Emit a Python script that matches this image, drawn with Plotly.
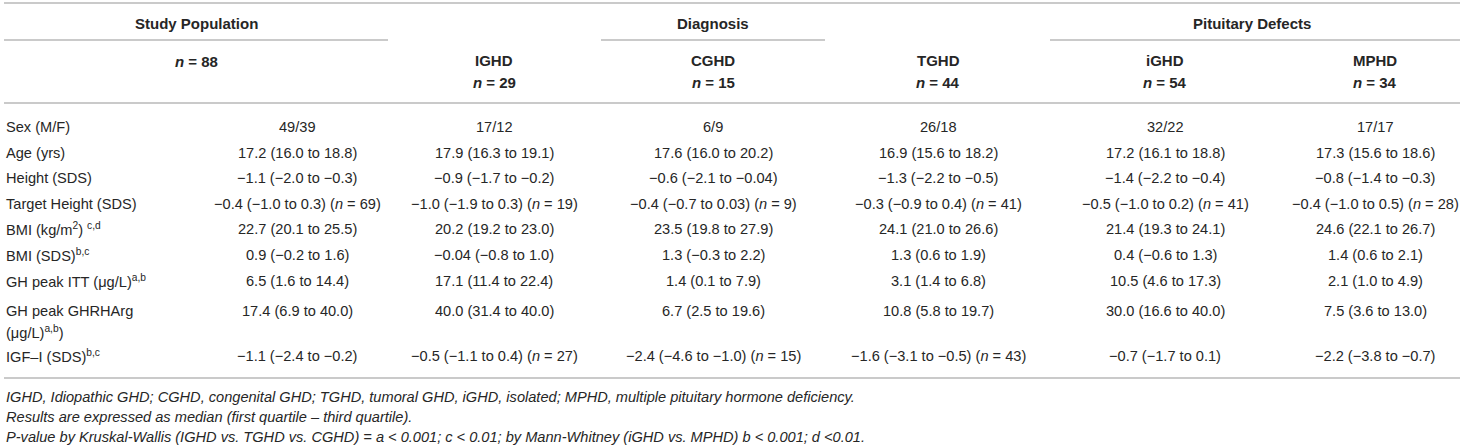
import plotly.graph_objects as go

# row labels (first column)
row_labels = [
    "Sex (M/F)",
    "Age (yrs)",
    "Height (SDS)",
    "Target Height (SDS)",
    "BMI (kg/m<sup>2</sup>) <sup>c,d</sup>",
    "BMI (SDS)<sup>b,c</sup>",
    "GH peak ITT (μg/L)<sup>a,b</sup>",
    "GH peak GHRHArg<br>(μg/L)<sup>a,b</sup>)",
    "IGF–I (SDS)<sup>b,c</sup>",
]

# header groups
group_titles = ["Study Population", "Diagnosis", "Pituitary Defects"]
study_n = 88
sub_names = ["IGHD", "CGHD", "TGHD", "iGHD", "MPHD"]
sub_n = [29, 15, 44, 54, 34]

# values per column, median (first quartile to third quartile)
study_pop = ["49/39", "17.2 (16.0 to 18.8)", "−1.1 (−2.0 to −0.3)",
             "−0.4 (−1.0 to 0.3) (<i>n</i> = 69)", "22.7 (20.1 to 25.5)",
             "0.9 (−0.2 to 1.6)", "6.5 (1.6 to 14.4)", "17.4 (6.9 to 40.0)",
             "−1.1 (−2.4 to −0.2)"]
igh = ["17/12", "17.9 (16.3 to 19.1)", "−0.9 (−1.7 to −0.2)",
       "−1.0 (−1.9 to 0.3) (<i>n</i> = 19)", "20.2 (19.2 to 23.0)",
       "−0.04 (−0.8 to 1.0)", "17.1 (11.4 to 22.4)", "40.0 (31.4 to 40.0)",
       "−0.5 (−1.1 to 0.4) (<i>n</i> = 27)"]
cgh = ["6/9", "17.6 (16.0 to 20.2)", "−0.6 (−2.1 to −0.04)",
       "−0.4 (−0.7 to 0.03) (<i>n</i> = 9)", "23.5 (19.8 to 27.9)",
       "1.3 (−0.3 to 2.2)", "1.4 (0.1 to 7.9)", "6.7 (2.5 to 19.6)",
       "−2.4 (−4.6 to −1.0) (<i>n</i> = 15)"]
tgh = ["26/18", "16.9 (15.6 to 18.2)", "−1.3 (−2.2 to −0.5)",
       "−0.3 (−0.9 to 0.4) (<i>n</i> = 41)", "24.1 (21.0 to 26.6)",
       "1.3 (0.6 to 1.9)", "3.1 (1.4 to 6.8)", "10.8 (5.8 to 19.7)",
       "−1.6 (−3.1 to −0.5) (<i>n</i> = 43)"]
iso = ["32/22", "17.2 (16.1 to 18.8)", "−1.4 (−2.2 to −0.4)",
       "−0.5 (−1.0 to 0.2) (<i>n</i> = 41)", "21.4 (19.3 to 24.1)",
       "0.4 (−0.6 to 1.3)", "10.5 (4.6 to 17.3)", "30.0 (16.6 to 40.0)",
       "−0.7 (−1.7 to 0.1)"]
mph = ["17/17", "17.3 (15.6 to 18.6)", "−0.8 (−1.4 to −0.3)",
       "−0.4 (−1.0 to 0.5) (<i>n</i> = 28)", "24.6 (22.1 to 26.7)",
       "1.4 (0.6 to 2.1)", "2.1 (1.0 to 4.9)", "7.5 (3.6 to 13.0)",
       "−2.2 (−3.8 to −0.7)"]

footnotes = [
    "IGHD, Idiopathic GHD; CGHD, congenital GHD; TGHD, tumoral GHD, iGHD, isolated; "
    "MPHD, multiple pituitary hormone deficiency.",
    "Results are expressed as median (first quartile – third quartile).",
    "P-value by Kruskal-Wallis (IGHD vs. TGHD vs. CGHD) = a &lt; 0.001; c &lt; 0.01; "
    "by Mann-Whitney (iGHD vs. MPHD) b &lt; 0.001; d &lt;0.01.",
]

columns = [study_pop, igh, cgh, tgh, iso, mph]

# layout (pixels, y goes down)
W, H = 1464, 448
LEFT, RIGHT = 4, 1460
col_x = [297, 494, 713, 938, 1165, 1375]
row_y = [127, 153, 178, 204, 229, 255, 281, 311, 356]
line_gap = 21
group_x = [196, 713, 1252]
rule_spans = [(LEFT, 388), (601, 825), (1050, RIGHT)]

TXT = "#262626"
RULE = "#b8b8b8"
FONT = "Arial, Liberation Sans, sans-serif"
BODY = 14.6

fig = go.Figure()
ann = []


def add_text(x, y, text, anchor="center", size=BODY, bold=False):
    ann.append(dict(x=x, y=y, xref="x", yref="y", text=f"<b>{text}</b>" if bold else text,
                    showarrow=False, xanchor=anchor, yanchor="middle",
                    font=dict(family=FONT, size=size, color=TXT)))


# group headers
for title, gx in zip(group_titles, group_x):
    add_text(gx, 23, title, bold=True, size=15)
add_text(group_x[0], 61, f"<i>n</i> = {study_n}", bold=True, size=15)
for name, n, cx in zip(sub_names, sub_n, col_x[1:]):
    add_text(cx, 60, name, bold=True, size=15)
    add_text(cx, 82, f"<i>n</i> = {n}", bold=True, size=15)

# body
for i, lab in enumerate(row_labels):
    for k, part in enumerate(lab.split("<br>")):
        add_text(LEFT, row_y[i] + k * line_gap, part, anchor="left")
for col, cx in zip(columns, col_x):
    for i, val in enumerate(col):
        add_text(cx, row_y[i], val)

# footnotes
for k, note in enumerate(footnotes):
    add_text(LEFT, 397 + k * 20, f"<i>{note}</i>", anchor="left", size=14.6)

shapes = []
for y in (3, 103, 378):
    shapes.append(dict(type="line", xref="x", yref="y", x0=LEFT, x1=RIGHT, y0=y, y1=y,
                       line=dict(color=RULE, width=1.6)))
for x0, x1 in rule_spans:
    shapes.append(dict(type="line", xref="x", yref="y", x0=x0, x1=x1, y0=40, y1=40,
                       line=dict(color=RULE, width=1.6)))

fig.update_layout(
    width=W, height=H,
    margin=dict(l=0, r=0, t=0, b=0),
    paper_bgcolor="white", plot_bgcolor="white",
    xaxis=dict(range=[0, W], visible=False, fixedrange=True),
    yaxis=dict(range=[H, 0], visible=False, fixedrange=True),
    annotations=ann, shapes=shapes,
    showlegend=False,
)

fig.write_html("out.html", config={"displayModeBar": False},
               post_script="document.body.style.margin='0';")
